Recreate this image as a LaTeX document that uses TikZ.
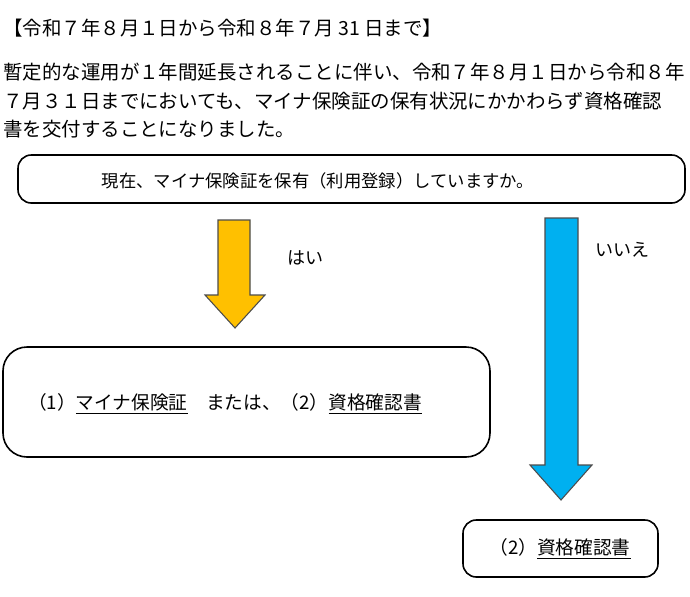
\documentclass[tikz,border=0pt]{standalone}
\usepackage{fontspec}
\setmainfont{Noto Sans CJK JP}
\definecolor{yarrow}{HTML}{FFC000}
\definecolor{barrow}{HTML}{00B0F0}
\begin{document}
\begin{tikzpicture}[x=0.75pt,y=-0.75pt]
  \tikzset{panel/.style={draw, line width=1.2pt, rounded corners=10pt},
    txt/.style={font=\fontsize{13}{15}\selectfont, inner sep=0pt},
    para/.style={font=\fontsize{14.6}{20}\selectfont, anchor=west, inner sep=0pt}}
  \useasboundingbox (0,0) rectangle (690,597);
  % heading and paragraph
  \node[para] (title) at (3,28) {【令和７年８月１日から令和８年７月 31 日まで】};
  \node[para] (line1) at (3,72) {暫定的な運用が１年間延長されることに伴い、令和７年８月１日から令和８年};
  \node[para] (line2) at (3,101) {７月３１日までにおいても、マイナ保険証の保有状況にかかわらず資格確認};
  \node[para] (line3) at (3,129) {書を交付することになりました。};
  % boxes
  \draw[panel] (18,155) rectangle (685,203);
  \node[txt] (question) at (318,181) {現在、マイナ保険証を保有（利用登録）していますか。};
  \draw[panel, rounded corners=18pt] (3,347) rectangle (490,457);
  \node[txt, font=\fontsize{14}{16}\selectfont, anchor=west] (both) at (28,404)
    {（1）\underline{マイナ保険証}　または、（2）\underline{資格確認書}};
  \draw[panel] (463,520) rectangle (658,577);
  \node[txt, font=\fontsize{14}{16}\selectfont] (card) at (560,549) {（2）\underline{資格確認書}};
  % arrows
  \filldraw[fill=yarrow, draw=black!70, line width=0.8pt]
    (218,220) -- (250,220) -- (250,295) -- (265,295) -- (235,328)
    -- (205,295) -- (218,295) -- cycle;
  \filldraw[fill=barrow, draw=black!70, line width=0.8pt]
    (545,218) -- (578,218) -- (578,465) -- (592,465) -- (561,500)
    -- (530,465) -- (545,465) -- cycle;
  \node[txt, font=\fontsize{13.5}{15}\selectfont] (yes) at (305,258) {はい};
  \node[txt, font=\fontsize{13.5}{15}\selectfont] (no) at (622,250) {いいえ};
\end{tikzpicture}
\end{document}
